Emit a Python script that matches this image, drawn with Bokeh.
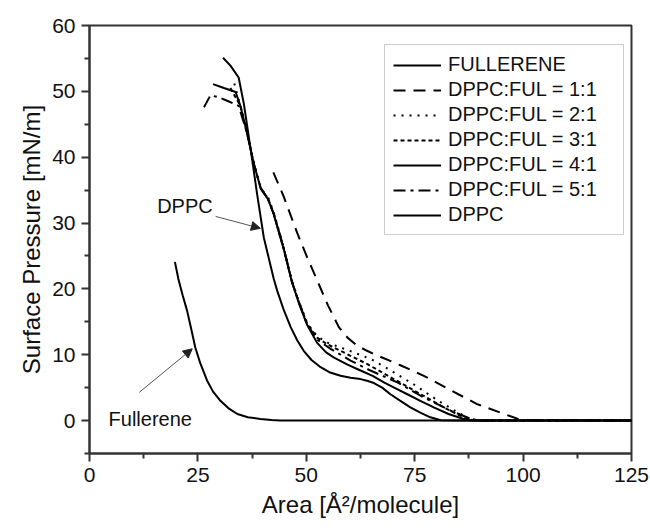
from bokeh.plotting import figure
from bokeh.models import Range1d, FixedTicker, Legend, LegendItem, Arrow, NormalHead, Label, Title
from bokeh.embed import file_html
from bokeh.resources import INLINE

# ---- data ----
ful_x = [19.7, 20.5, 21.5, 22.5, 23.5, 24.4, 25.5, 27.1, 28.5, 30.2, 32.0, 34.1, 36.5, 39.4, 42.0, 44.0, 60, 80, 100, 125]
ful_y = [24.1, 21.5, 19.0, 16.7, 13.8, 11.1, 8.8, 6.1, 4.4, 3.0, 1.9, 1.0, 0.5, 0.25, 0.1, 0.0, 0, 0, 0, 0]

r11_x = [42.4, 44.8, 47.9, 50.2, 52.5, 55.0, 57.5, 59.5, 61.7, 64.0, 66.3, 71.7, 77.1, 83.3, 89.4, 95.6, 99.5, 125]
r11_y = [37.7, 34.0, 28.5, 24.8, 21.3, 17.5, 14.2, 12.6, 11.4, 10.6, 9.9, 8.4, 6.8, 4.6, 2.5, 1.0, 0.1, 0]

r21_x = [33.4, 34.8, 36.4, 37.9, 39.5, 41.2, 42.5, 44.8, 46.7, 48.2, 50.2, 52.5, 55.0, 60.0, 65.0, 70.0, 75.0, 80.0, 85.0, 88.0, 90.0, 125]
r21_y = [51.2, 47.8, 43.5, 39.0, 35.3, 33.9, 31.6, 26.3, 21.2, 18.3, 14.8, 12.8, 11.8, 10.6, 9.3, 7.4, 5.4, 3.2, 1.2, 0.2, 0.0, 0]

r31_x = [32.5, 34.8, 36.4, 37.9, 39.5, 41.2, 42.5, 44.8, 46.7, 48.2, 50.2, 52.5, 54.8, 59.4, 64.0, 69.4, 75.6, 81.7, 86.8, 89.0, 125]
r31_y = [50.5, 47.8, 43.5, 39.0, 35.3, 33.7, 31.4, 26.1, 21.0, 18.2, 14.7, 12.6, 11.6, 10.1, 8.6, 6.6, 4.3, 2.0, 0.3, 0.0, 0]

r41_x = [28.5, 31.0, 33.7, 34.8, 36.4, 37.9, 39.5, 41.2, 42.5, 44.8, 46.7, 48.2, 50.2, 52.5, 54.5, 56.3, 59.5, 62.5, 65.3, 67.9, 70.6, 73.3, 76.3, 79.4, 82.8, 86.3, 88.0, 125]
r41_y = [51.1, 50.5, 49.9, 47.8, 43.5, 39.0, 35.2, 33.6, 31.3, 26.0, 21.0, 18.0, 14.5, 11.8, 10.4, 9.6, 8.5, 7.6, 6.8, 5.8, 4.9, 4.0, 3.0, 2.0, 1.0, 0.25, 0.0, 0]

r51_x = [26.4, 27.9, 29.8, 32.0, 34.4, 36.4, 37.9, 39.5, 41.2, 42.5, 44.8, 46.7, 48.2, 50.2, 52.5, 55.6, 60.2, 64.8, 71.0, 77.1, 83.3, 87.8, 90.0, 125]
r51_y = [47.6, 49.4, 49.1, 48.5, 47.8, 43.5, 39.0, 35.3, 33.6, 31.4, 26.2, 21.1, 18.1, 14.6, 12.3, 10.9, 9.1, 7.6, 5.8, 3.5, 1.5, 0.3, 0.0, 0]

dppc_x = [30.8, 32.5, 34.4, 35.6, 37.1, 38.7, 40.2, 41.0, 42.5, 43.3, 44.8, 46.4, 47.9, 49.4, 51.2, 53.3, 55.5, 57.9, 60.2, 62.5, 64.2, 65.6, 67.5, 69.4, 71.7, 74.0, 76.3, 78.6, 81.0, 85.0, 125]
dppc_y = [55.1, 53.9, 52.1, 48.1, 41.5, 34.2, 27.8, 25.6, 21.5, 19.7, 16.8, 14.2, 12.2, 10.6, 9.2, 8.1, 7.3, 6.8, 6.5, 6.3, 6.0, 5.7, 5.0, 4.0, 3.0, 2.0, 1.2, 0.5, 0.05, 0, 0]

series_labels = ["FULLERENE", "DPPC:FUL = 1:1", "DPPC:FUL = 2:1", "DPPC:FUL = 3:1",
                 "DPPC:FUL = 4:1", "DPPC:FUL = 5:1", "DPPC"]

x_ticks = [0, 25, 50, 75, 100, 125]
x_minor = [12.5, 37.5, 62.5, 87.5, 112.5]
y_ticks = [0, 10, 20, 30, 40, 50, 60]
y_minor = [-5, 5, 15, 25, 35, 45, 55]

x_title = "Area [Å²/molecule]"
y_title = "Surface Pressure [mN/m]"

FONT = "Liberation Sans"
INK = "#111111"
AX = "#333333"

p = figure(width=650, height=528, output_backend="svg", toolbar_location=None,
           x_range=Range1d(0, 125), y_range=Range1d(-5, 60),
           min_border_left=89, min_border_right=19, min_border_top=25, min_border_bottom=75)
p.xgrid.visible = False
p.ygrid.visible = False
p.background_fill_color = "white"
p.border_fill_color = "white"
p.outline_line_color = AX
p.outline_line_width = 2

for ax, ticks, minor in ((p.xaxis[0], x_ticks, x_minor), (p.yaxis[0], y_ticks, y_minor)):
    ax.ticker = FixedTicker(ticks=ticks, minor_ticks=minor)
    ax.axis_line_color = AX
    ax.axis_line_width = 2
    ax.major_tick_line_color = AX
    ax.major_tick_line_width = 2
    ax.minor_tick_line_color = AX
    ax.minor_tick_line_width = 2
    ax.major_tick_out = 8
    ax.major_tick_in = 0
    ax.minor_tick_out = 5
    ax.minor_tick_in = 0
    ax.major_label_text_font = FONT
    ax.major_label_text_font_size = "21px"
    ax.major_label_text_color = INK
p.xaxis.major_label_standoff = 6
p.yaxis.major_label_standoff = 6

# axis titles as side titles (allow an offset like the original)
p.add_layout(Title(text=x_title, align="center", offset=-20, standoff=8,
                   text_font=FONT, text_font_size="24px", text_font_style="normal",
                   text_color=INK), "below")
p.add_layout(Title(text=y_title, align="center", offset=3, standoff=10,
                   text_font=FONT, text_font_size="24px", text_font_style="normal",
                   text_color=INK), "left")

LW = 2
r_ful = p.line(ful_x, ful_y, line_color="black", line_width=LW)
r_11 = p.line(r11_x, r11_y, line_color="black", line_width=LW, line_dash="12 8")
r_21 = p.line(r21_x, r21_y, line_color="black", line_width=LW, line_dash="2 6")
r_31 = p.line(r31_x, r31_y, line_color="black", line_width=LW, line_dash="4 3")
r_41 = p.line(r41_x, r41_y, line_color="black", line_width=LW)
r_51 = p.line(r51_x, r51_y, line_color="black", line_width=LW, line_dash="12 5 3 5")
r_dp = p.line(dppc_x, dppc_y, line_color="black", line_width=LW)

renderers = [r_ful, r_11, r_21, r_31, r_41, r_51, r_dp]
legend = Legend(items=[LegendItem(label=l, renderers=[r]) for l, r in zip(series_labels, renderers)],
                location=(295, 218))
legend.label_text_font = FONT
legend.label_text_font_size = "20px"
legend.label_text_color = INK
legend.glyph_width = 48
legend.glyph_height = 20
legend.label_height = 20
legend.label_standoff = 7
legend.spacing = 2
legend.padding = 8
legend.margin = 0
legend.label_width = 167
legend.border_line_color = "#999999"
legend.border_line_width = 1
legend.background_fill_alpha = 1
p.add_layout(legend)

# annotations
p.add_layout(Label(x=15.6, y=32.6, text="DPPC", text_font=FONT, text_font_size="20px",
                   text_color=INK, text_baseline="middle"))
p.add_layout(Label(x=4.4, y=0.2, text="Fullerene", text_font=FONT, text_font_size="20px",
                   text_color=INK, text_baseline="middle"))
p.add_layout(Arrow(x_start=29.1, y_start=31.0, x_end=39.4, y_end=29.2, line_color="#555555", line_width=1,
                   end=NormalHead(size=9, fill_color="#222222", line_color="#222222")))
p.add_layout(Arrow(x_start=11.5, y_start=4.3, x_end=23.7, y_end=10.9, line_color="#555555", line_width=1,
                   end=NormalHead(size=9, fill_color="#222222", line_color="#222222")))

open("out.html", "w").write(file_html(p, INLINE))
